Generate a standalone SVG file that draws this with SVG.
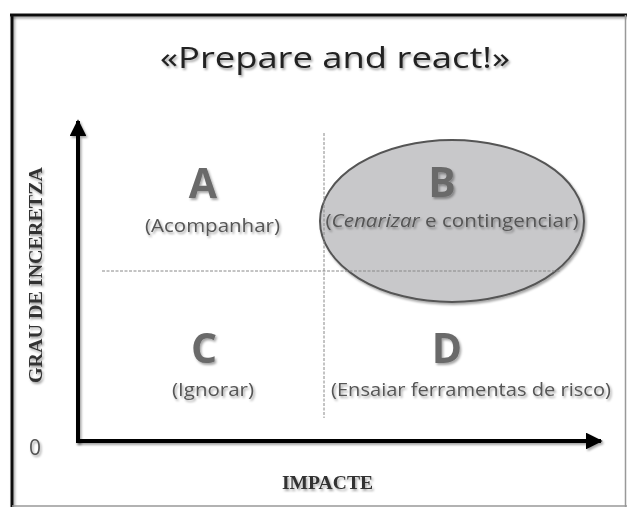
<svg xmlns="http://www.w3.org/2000/svg" width="627" height="507" viewBox="0 0 627 507">
<defs>
<filter id="sh" filterUnits="userSpaceOnUse" x="0" y="0" width="627" height="507">
<feDropShadow dx="1.5" dy="2" stdDeviation="1.2" flood-color="#000" flood-opacity="0.35"/>
</filter>
<marker id="ah" viewBox="0 0 10 10" refX="9" refY="5" markerWidth="4.2" markerHeight="4.2" markerUnits="strokeWidth" orient="auto">
<path d="M0,0 L10,5 L0,10 Z" fill="#000"/>
</marker>
<style>
.ttl{font-family:"Open Sans","Noto Sans",sans-serif;font-size:30px;fill:#222;}
.big{font-family:"Open Sans","Noto Sans",sans-serif;font-weight:bold;font-size:41px;fill:#6a6a6a;text-anchor:middle;}
.sub{font-family:"Open Sans","Noto Sans",sans-serif;font-size:18px;fill:#555;text-anchor:middle;}
.ax{font-family:"Liberation Serif","Times New Roman",serif;font-weight:bold;font-size:18px;fill:#333;text-anchor:middle;}
.dash{stroke:#888;stroke-width:1;stroke-dasharray:3 1.5;fill:none;}
.axis{stroke:#000;stroke-width:4;fill:none;}
</style>
</defs>
<rect width="627" height="507" fill="#fff"/>
<g id="frame">
<line x1="12" y1="14" x2="12" y2="507" stroke="#111" stroke-width="3" filter="url(#sh)"/>
<line x1="10" y1="15" x2="627" y2="15" stroke="#111" stroke-width="3" filter="url(#sh)"/>
<line x1="625.5" y1="15" x2="625.5" y2="507" stroke="#999" stroke-width="1.5"/>
<line x1="12" y1="506" x2="627" y2="506" stroke="#999" stroke-width="1.5"/>
</g>
<g id="title">
<text class="ttl" x="335" y="68" text-anchor="middle" textLength="350" lengthAdjust="spacingAndGlyphs" filter="url(#sh)">«Prepare and react!»</text>
</g>
<g id="B">
<ellipse cx="452" cy="221" rx="132" ry="81" fill="#c8c8ca" stroke="#555" stroke-width="2" filter="url(#sh)"/>
<text class="big" x="442" y="197" filter="url(#sh)">B</text>
<text class="sub" x="452" y="227" textLength="253" lengthAdjust="spacingAndGlyphs" filter="url(#sh)">(<tspan font-style="italic">Cenarizar</tspan> e contingenciar)</text>
</g>
<g id="connectors">
<line class="dash" x1="324" y1="133" x2="324" y2="418"/>
<line class="dash" x1="102" y1="271" x2="560" y2="271"/>
<line class="axis" x1="78" y1="443" x2="78" y2="121" marker-end="url(#ah)" filter="url(#sh)"/>
<line class="axis" x1="76" y1="441" x2="601" y2="441" marker-end="url(#ah)" filter="url(#sh)"/>
</g>
<g id="A">
<text class="big" x="203" y="198" filter="url(#sh)">A</text>
<text class="sub" x="212.5" y="232" textLength="135" lengthAdjust="spacingAndGlyphs" filter="url(#sh)">(Acompanhar)</text>
</g>
<g id="C">
<text class="big" x="204" y="363" filter="url(#sh)">C</text>
<text class="sub" x="213" y="396" textLength="82" lengthAdjust="spacingAndGlyphs" filter="url(#sh)">(Ignorar)</text>
</g>
<g id="D">
<text class="big" x="447" y="363" filter="url(#sh)">D</text>
<text class="sub" x="471" y="396" textLength="280" lengthAdjust="spacingAndGlyphs" filter="url(#sh)">(Ensaiar ferramentas de risco)</text>
</g>
<g id="axis-labels">
<g filter="url(#sh)">
<text class="ax" transform="translate(42,275) rotate(-90)" textLength="216" lengthAdjust="spacingAndGlyphs">GRAU DE INCERETZA</text>
</g>
<text class="ax" x="327.5" y="489" textLength="91" lengthAdjust="spacingAndGlyphs" filter="url(#sh)">IMPACTE</text>
<text x="35" y="455" text-anchor="middle" font-family="Open Sans, Noto Sans, sans-serif" font-size="21" fill="#555" filter="url(#sh)">0</text>
</g>
</svg>
